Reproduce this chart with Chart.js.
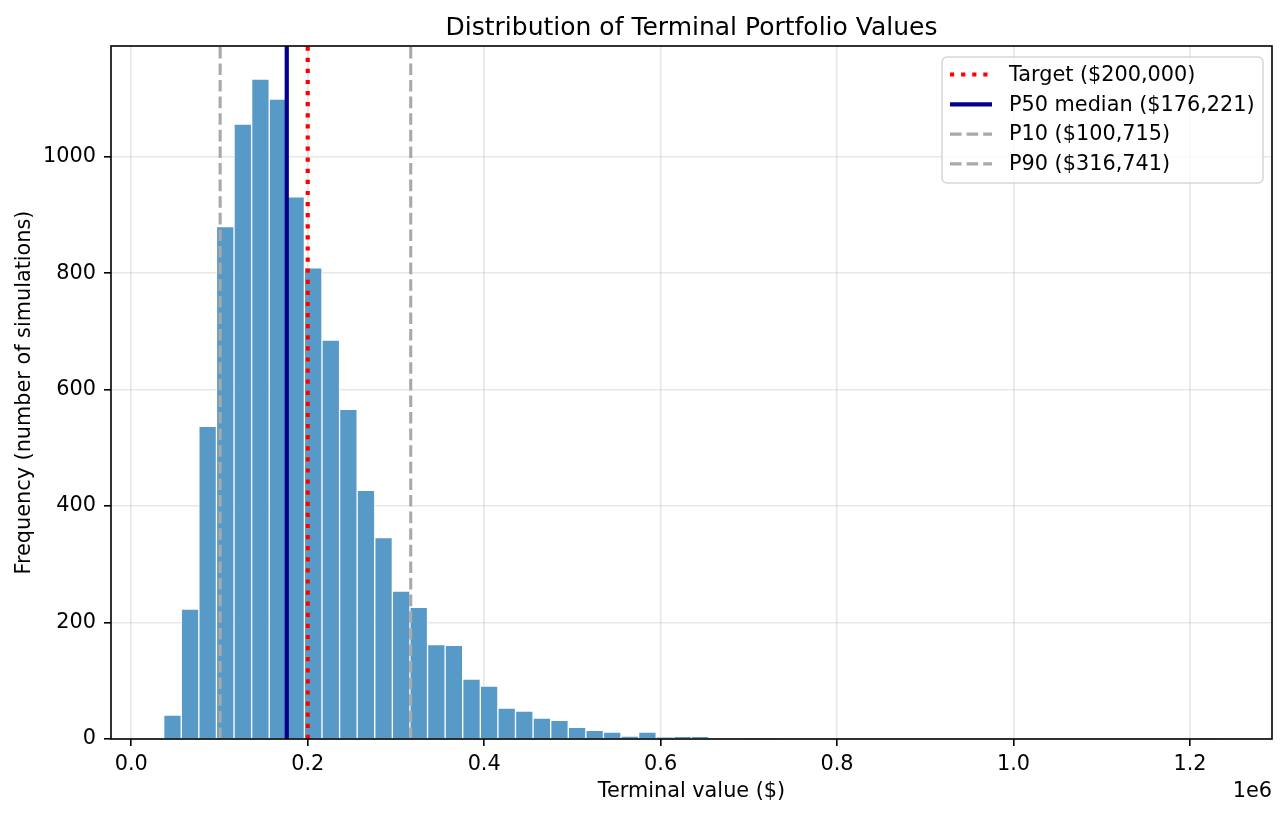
<!DOCTYPE html>
<html>
<head>
<meta charset="utf-8">
<title>Distribution of Terminal Portfolio Values</title>
<script src="https://cdn.jsdelivr.net/npm/chart.js@4/dist/chart.umd.min.js"></script>
<style>
    html, body { margin: 0; padding: 0; background: #fff; }
    #wrap { width: 1288px; height: 817px; position: relative; }
</style>
</head>
<body>
<div id="wrap"><canvas id="histChart"></canvas></div>
<script>
// histogram data: 60 bins, counts
const binStart = 36700;
const binWidth = 19940;
const binCounts = [
    41, 223, 537, 880, 1056, 1133, 1099, 931, 809, 685,
    566, 427, 346, 254, 226, 162, 161, 103, 91, 53,
    48, 36, 32, 20, 15, 12, 5, 12, 3, 4,
    4, 0, 0, 1, 1, 0, 0, 0, 0, 0,
    0, 0, 0, 0, 0, 0, 0, 0, 0, 0,
    0, 0, 0, 0, 0, 0, 0, 0, 0, 1
];

// reference lines
const refLabels = ['Target ($200,000)', 'P50 median ($176,221)', 'P10 ($100,715)', 'P90 ($316,741)'];
const refValues = [200000, 176221, 100715, 316741];

// tick labels
const xTickValues = [0, 200000, 400000, 600000, 800000, 1000000, 1200000];
const yTickValues = [0, 200, 400, 600, 800, 1000];

// styles for the reference lines
const refColors = ['#ff0000', '#00008b', '#a9a9a9', '#a9a9a9'];
const refWidths = [4.2, 4.2, 3.1, 3.1];
const refDashes = [[4.2, 6.9], [], [11.6, 5], [11.6, 5]];

const yMax = 1190;
const fontFamily = "'DejaVu Sans', sans-serif";

const barData = binCounts.map((c, i) => ({ x: binStart + binWidth * (i + 0.5), y: c }));

const datasets = refValues.map((v, i) => ({
    type: 'line',
    label: refLabels[i],
    data: [{ x: v, y: 0 }, { x: v, y: yMax }],
    borderColor: refColors[i],
    borderWidth: refWidths[i],
    borderDash: refDashes[i],
    borderCapStyle: 'butt',
    pointRadius: 0,
    fill: false,
    order: 1
}));
datasets.push({
    type: 'bar',
    label: 'counts',
    data: barData,
    backgroundColor: '#5799c7',
    borderColor: 'rgba(255,255,255,0.8)',
    borderWidth: 1,
    barPercentage: 1,
    categoryPercentage: 1,
    order: 10
});

// spines, title, offset text and legend
const decorPlugin = {
    id: 'decor',
    afterDraw(chart) {
        const ctx = chart.ctx;
        const a = chart.chartArea;
        ctx.save();
        ctx.strokeStyle = '#000';
        ctx.lineWidth = 1.6;
        ctx.strokeRect(a.left, a.top, a.right - a.left, a.bottom - a.top);

        ctx.fillStyle = '#000';
        ctx.font = '25px ' + fontFamily;
        ctx.textAlign = 'center';
        ctx.textBaseline = 'alphabetic';
        ctx.fillText('Distribution of Terminal Portfolio Values', (a.left + a.right) / 2, 35);

        ctx.font = '20.8px ' + fontFamily;
        ctx.textAlign = 'right';
        ctx.fillText('1e6', a.right, 797);

        // legend box
        const bx = 942, by = 57, bw = 321, bh = 126, r = 5;
        ctx.beginPath();
        ctx.moveTo(bx + r, by);
        ctx.arcTo(bx + bw, by, bx + bw, by + bh, r);
        ctx.arcTo(bx + bw, by + bh, bx, by + bh, r);
        ctx.arcTo(bx, by + bh, bx, by, r);
        ctx.arcTo(bx, by, bx + bw, by, r);
        ctx.closePath();
        ctx.fillStyle = 'rgba(255,255,255,0.8)';
        ctx.fill();
        ctx.strokeStyle = 'rgba(204,204,204,0.8)';
        ctx.lineWidth = 1.5;
        ctx.stroke();

        ctx.textAlign = 'left';
        ctx.textBaseline = 'middle';
        refLabels.forEach((lbl, i) => {
            const yy = 74.5 + i * 29.8;
            ctx.beginPath();
            ctx.setLineDash(refDashes[i]);
            ctx.lineCap = 'butt';
            ctx.strokeStyle = refColors[i];
            ctx.lineWidth = refWidths[i];
            ctx.moveTo(950, yy);
            ctx.lineTo(992, yy);
            ctx.stroke();
            ctx.setLineDash([]);
            ctx.fillStyle = '#000';
            ctx.fillText(lbl, 1009, yy + 1);
        });
        ctx.restore();
    }
};

const ctx = document.getElementById('histChart').getContext('2d');
const chart = new Chart(ctx, {
    type: 'bar',
    data: { datasets: datasets },
    options: {
        responsive: true,
        maintainAspectRatio: false,
        animation: false,
        layout: { padding: { top: 46, right: 16, left: 0, bottom: 0 } },
        plugins: {
            legend: { display: false },
            title: { display: false },
            tooltip: { enabled: false }
        },
        scales: {
            x: {
                type: 'linear',
                min: -23000,
                max: 1293000,
                offset: false,
                z: 1,
                afterFit: scale => { scale.height = 78; },
                afterBuildTicks: scale => { scale.ticks = xTickValues.map(v => ({ value: v })); },
                grid: {
                    offset: false,
                    color: 'rgba(176,176,176,0.3)',
                    lineWidth: 1.6,
                    tickColor: '#000',
                    tickWidth: 1.6,
                    tickLength: 7
                },
                border: { display: false },
                ticks: {
                    color: '#000',
                    padding: 6,
                    maxRotation: 0,
                    font: { family: fontFamily, size: 20.8 },
                    callback: v => (v / 1e6).toFixed(1)
                },
                title: {
                    display: true,
                    text: 'Terminal value ($)',
                    color: '#000',
                    padding: 13,
                    font: { family: fontFamily, size: 20.8 }
                }
            },
            y: {
                min: 0,
                max: yMax,
                z: 1,
                afterFit: scale => { scale.width = 111; },
                afterBuildTicks: scale => { scale.ticks = yTickValues.map(v => ({ value: v })); },
                grid: {
                    color: 'rgba(176,176,176,0.3)',
                    lineWidth: 1.6,
                    tickColor: '#000',
                    tickWidth: 1.6,
                    tickLength: 7
                },
                border: { display: false },
                ticks: {
                    color: '#000',
                    padding: 8,
                    font: { family: fontFamily, size: 20.8 },
                    callback: v => String(v)
                },
                title: {
                    display: true,
                    text: 'Frequency (number of simulations)',
                    color: '#000',
                    padding: 12,
                    font: { family: fontFamily, size: 20.8 }
                }
            }
        }
    },
    plugins: [decorPlugin]
});
</script>
</body>
</html>
